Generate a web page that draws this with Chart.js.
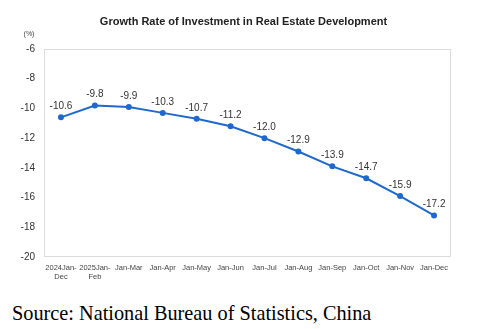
<!DOCTYPE html>
<html>
<head>
<meta charset="utf-8">
<script src="https://cdn.jsdelivr.net/npm/chart.js@4"></script>
<style>
  body { margin: 0; background: #fff; }
  #wrap { position: relative; width: 487px; height: 329px; }
  #box { position: absolute; left: 0; top: 0; width: 487px; height: 296px; }
  #source {
    position: absolute; left: 12px; top: 302px;
    font-family: "Liberation Serif", "Times New Roman", serif;
    font-size: 20.3px; color: #000; white-space: nowrap;
  }
</style>
</head>
<body>
<div id="wrap">
  <div id="box"><canvas id="rateChart"></canvas></div>
  <div id="source">Source: National Bureau of Statistics, China</div>
</div>
<script>
const periods = [['2024Jan-', 'Dec'], ['2025Jan-', 'Feb'], 'Jan-Mar', 'Jan-Apr', 'Jan-May', 'Jan-Jun',
    'Jan-Jul', 'Jan-Aug', 'Jan-Sep', 'Jan-Oct', 'Jan-Nov', 'Jan-Dec'];
const growthRate = [-10.6, -9.8, -9.9, -10.3, -10.7, -11.2, -12.0, -12.9, -13.9, -14.7, -15.9, -17.2];
const yMin = -20;
const yMax = -6;
const yStep = 2;

const chartTitle = 'Growth Rate of Investment in Real Estate Development';
const lineColor = '#1f68cc';
const sans = '"Liberation Sans", Arial, sans-serif';

// title centred on the canvas, frame around the plot area, "(%)" unit and point values
const decorations = {
    id: 'decorations',
    beforeDatasetsDraw(chart) {
        const { ctx, chartArea, width } = chart;
        ctx.save();
        ctx.fillStyle = '#222';
        ctx.font = 'bold 11px ' + sans;
        ctx.textAlign = 'center';
        ctx.textBaseline = 'middle';
        ctx.fillText(chartTitle, width / 2, 22);

        ctx.strokeStyle = '#dcdcdc';
        ctx.lineWidth = 1;
        ctx.strokeRect(chartArea.left + 0.5, chartArea.top + 0.5,
            chartArea.right - chartArea.left - 1, chartArea.bottom - chartArea.top - 1);

        ctx.fillStyle = '#444';
        ctx.font = '7px ' + sans;
        ctx.fillText('(%)', 29, 34);
        ctx.restore();
    },
    afterDatasetsDraw(chart) {
        const { ctx } = chart;
        const meta = chart.getDatasetMeta(0);
        ctx.save();
        ctx.fillStyle = '#333';
        ctx.font = '10px ' + sans;
        ctx.textAlign = 'center';
        ctx.textBaseline = 'bottom';
        meta.data.forEach((pt, i) => {
            ctx.fillText(growthRate[i].toFixed(1), pt.x, pt.y - 6);
        });
        ctx.restore();
    }
};

new Chart(document.getElementById('rateChart'), {
    type: 'line',
    data: {
        labels: periods,
        datasets: [{
            data: growthRate,
            borderColor: lineColor,
            backgroundColor: lineColor,
            borderWidth: 2,
            pointRadius: 2,
            pointHoverRadius: 2,
            tension: 0
        }]
    },
    options: {
        responsive: true,
        maintainAspectRatio: false,
        animation: false,
        layout: { padding: { left: 0, right: 36, top: 49, bottom: 0 } },
        plugins: {
            legend: { display: false },
            tooltip: { enabled: false },
            title: { display: false }
        },
        scales: {
            x: {
                offset: true,
                grid: { display: false, drawTicks: false },
                border: { display: false },
                ticks: {
                    color: '#444',
                    font: { family: sans, size: 7.5 },
                    maxRotation: 0,
                    autoSkip: false,
                    padding: 6
                },
                afterFit(scale) { scale.height = 39; }
            },
            y: {
                min: yMin,
                max: yMax,
                grid: { display: false, drawTicks: false },
                border: { display: false },
                ticks: {
                    stepSize: yStep,
                    color: '#333',
                    font: { family: sans, size: 10 },
                    padding: 9
                },
                afterFit(scale) { scale.width = 44; }
            }
        }
    },
    plugins: [decorations]
});
</script>
</body>
</html>
